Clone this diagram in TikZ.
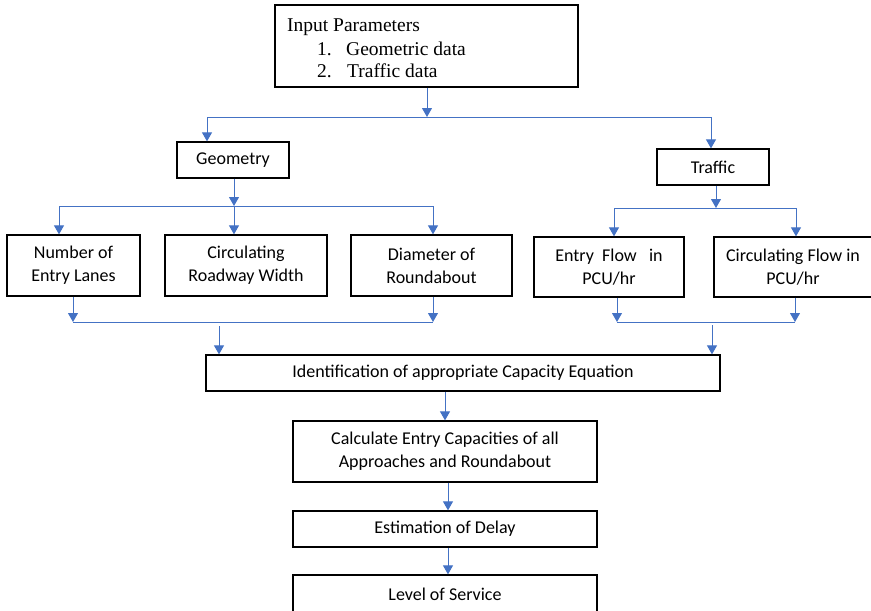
\documentclass[tikz,border=0pt]{standalone}
\usepackage{fontspec}
\setmainfont{Carlito}
\newfontfamily\timesfont{Liberation Serif}
\usetikzlibrary{arrows.meta}
\definecolor{conn}{HTML}{4472C4}
\tikzset{
  box/.style={draw=black, line width=1.3pt, fill=white, align=center, inner sep=0pt,
    font=\fontsize{18}{23}\selectfont},
  conline/.style={draw=conn, line width=1pt},
  arr/.style={conline, -{Triangle[width=10pt,length=9pt]}},
  serif/.style={font=\timesfont\fontsize{19.5}{24}\selectfont, inner sep=0pt, anchor=base west}
}
\begin{document}
\begin{tikzpicture}[x=1pt,y=-1pt]
\useasboundingbox (0,0) rectangle (871,611);
\clip (0,0) rectangle (871,611);
% boxes
\node[box, minimum width=303pt, minimum height=82pt] (input) at (426.5,46) {};
\node[serif] (t0) at (287,31) {Input Parameters};
\node[serif] (t1a) at (317,55) {1.};
\node[serif] (t1b) at (346,55) {Geometric data};
\node[serif] (t2a) at (317,77) {2.};
\node[serif] (t2b) at (347,77) {Traffic data};

\node[box, minimum width=112pt, minimum height=36pt] (geom) at (233,160) {Geometry};
\node[box, minimum width=112pt, minimum height=36pt] (traf) at (713,167) {Traffic};

\node[box, minimum width=133pt, minimum height=61pt] (num) at (73.5,265.5) {Number of\\Entry Lanes};
\node[box, minimum width=162pt, minimum height=61pt] (circ) at (246,265.5) {Circulating\\Roadway Width};
\node[box, minimum width=161pt, minimum height=61pt] (diam) at (431.5,265.5) {Diameter of\\Roundabout};
\node[box, minimum width=150pt, minimum height=60pt] (entry) at (609,267) {Entry\ \ Flow\ \ \ in\\PCU/hr};
\node[box, minimum width=158pt, minimum height=60pt] (cflow) at (793,267) {Circulating Flow in\\PCU/hr};

\node[box, minimum width=514pt, minimum height=36pt] (ident) at (463,373) {Identification of appropriate Capacity Equation};
\node[box, minimum width=304pt, minimum height=61pt] (calc) at (445,451.5) {Calculate Entry Capacities of all\\Approaches and Roundabout};
\node[box, minimum width=304pt, minimum height=36pt] (delay) at (445,529) {Estimation of Delay};
\node[box, minimum width=304pt, minimum height=38pt] (los) at (445,594) {Level of Service};

% junction coordinates
\coordinate (j1) at (427,117);
\coordinate (j1l) at (207,117);
\coordinate (j1r) at (711,117);
\coordinate (g0) at (234,206);
\coordinate (gl) at (59,206);
\coordinate (gr) at (433,206);
\coordinate (b1) at (73,322);
\coordinate (b2) at (433,322);
\coordinate (b3) at (219,326);
\coordinate (t0j) at (716,208);
\coordinate (tl) at (614,208);
\coordinate (tr) at (796,208);
\coordinate (c1) at (617,322);
\coordinate (c2) at (795,322);
\coordinate (c3) at (712,325);

% connectors
\draw[arr] (input.south -| j1) -- (j1);
\draw[conline] (j1l) -- (j1r);
\draw[arr] (j1l) -- (j1l |- geom.north);
\draw[arr] (j1r) -- (j1r |- traf.north);

\draw[arr] (geom.south -| g0) -- (g0);
\draw[conline] (gl) -- (gr);
\draw[arr] (gl) -- (gl |- num.north);
\draw[arr] (g0) -- (g0 |- circ.north);
\draw[arr] (gr) -- (gr |- diam.north);

\draw[arr] (num.south -| b1) -- (b1);
\draw[arr] (diam.south -| b2) -- (b2);
\draw[conline] (b1) -- (b2);
\draw[arr] (b3) -- (b3 |- ident.north);

\draw[arr] (traf.south -| t0j) -- (t0j);
\draw[conline] (tl) -- (tr);
\draw[arr] (tl) -- (tl |- entry.north);
\draw[arr] (tr) -- (tr |- cflow.north);

\draw[arr] (entry.south -| c1) -- (c1);
\draw[arr] (cflow.south -| c2) -- (c2);
\draw[conline] (c1) -- (c2);
\draw[arr] (c3) -- (c3 |- ident.north);

\draw[arr] (ident.south) ++(-18,0) coordinate (i1) -- (i1 |- calc.north);
\draw[arr] ([xshift=3pt]calc.south) -- ([xshift=3pt]delay.north);
\draw[arr] ([xshift=3pt]delay.south) -- ([xshift=3pt]los.north);
\end{tikzpicture}
\end{document}
